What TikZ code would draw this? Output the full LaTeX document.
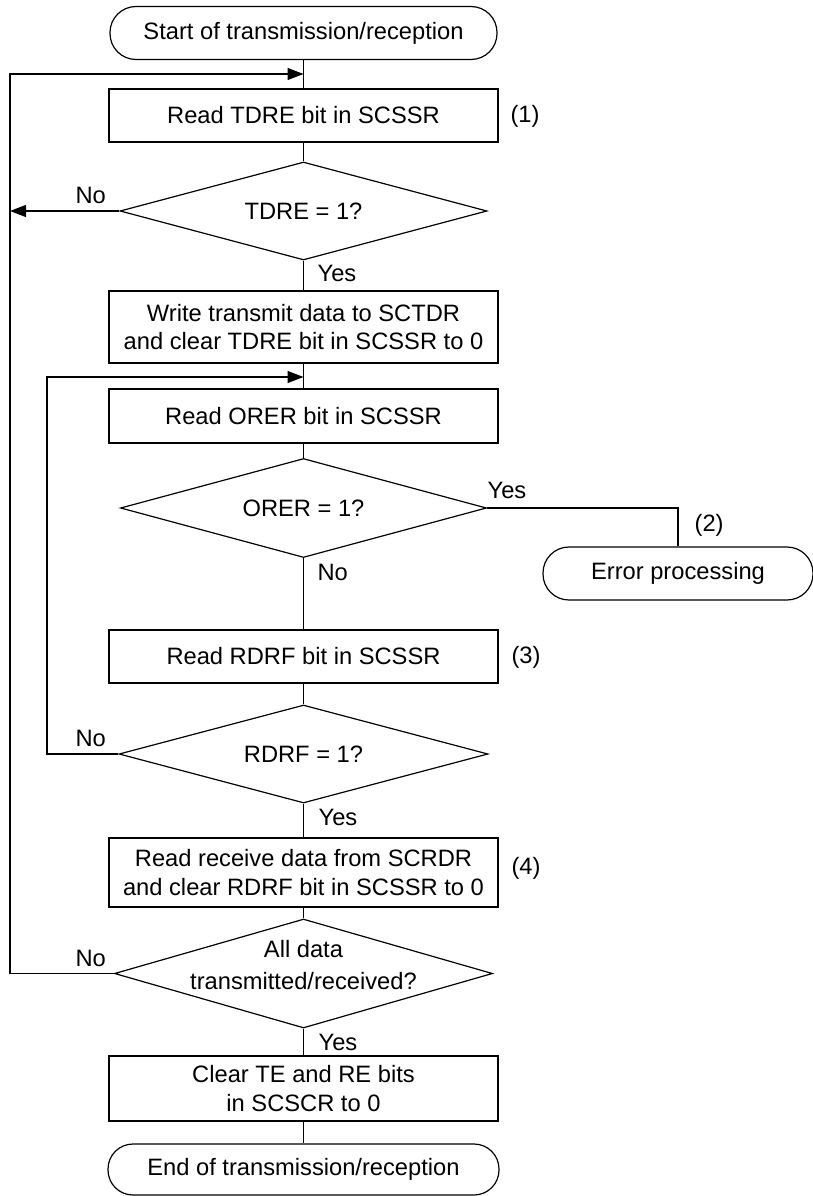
\documentclass[tikz,border=0pt]{standalone}
\usepackage{fontspec}
\setmainfont{Liberation Sans}
\usetikzlibrary{shapes.geometric,arrows.meta}
\begin{document}
\begin{tikzpicture}[x=1pt,y=-1pt,
  font=\fontsize{23.7}{28.5}\selectfont,
  line width=1.2pt,
  box/.style={draw, rectangle, minimum width=389pt, inner sep=0pt, align=center},
  term/.style={draw, rectangle, inner sep=0pt},
  dec/.style={draw, diamond, inner sep=0pt},
  lbl/.style={inner sep=0pt, anchor=west},
  arr/.style={-{Triangle[length=16pt,width=12pt]}}]
\useasboundingbox (0,0) rectangle (812,1196);

\node[term, rounded corners=26pt, minimum width=387pt, minimum height=53pt] (start) at (303.5,33) {Start of transmission/reception};
\node[box, minimum height=53pt] (b1) at (303.5,115.5) {Read TDRE bit in SCSSR};
\node[dec, minimum width=367pt, minimum height=98pt, label={[name=t1]center:TDRE = 1?}] (d1) at (303.5,211) {};
\node[box, minimum height=72pt] (b2) at (303.5,327) {Write transmit data to SCTDR\\and clear TDRE bit in SCSSR to 0};
\node[box, minimum height=54pt] (b3) at (303.5,416) {Read ORER bit in SCSSR};
\node[dec, minimum width=366pt, minimum height=99pt, label={[name=t2]center:ORER = 1?}] (d2) at (303.5,508) {};
\node[term, rounded corners=26pt, minimum width=270pt, minimum height=53pt] (err) at (678,573.5) {Error processing};
\node[box, minimum height=53pt] (b4) at (303.5,656.5) {Read RDRF bit in SCSSR};
\node[dec, minimum width=369pt, minimum height=98pt, label={[name=t3]center:RDRF = 1?}] (d3) at (303.5,754) {};
\node[box, minimum height=69pt] (b5) at (303.5,872.5) {Read receive data from SCRDR\\and clear RDRF bit in SCSSR to 0};
\node[dec, minimum width=378pt, minimum height=109pt, label={[name=t4, align=center, yshift=8pt]center:All data\\[3.5pt]transmitted/received?}] (d4) at (303.5,973.5) {};
\node[box, minimum height=65pt] (b6) at (303.5,1088.5) {Clear TE and RE bits\\in SCSCR to 0};
\node[term, rounded corners=25pt, minimum width=391pt, minimum height=51pt] (end) at (303.5,1169.5) {End of transmission/reception};

\coordinate (j1) at (303.5,74);
\coordinate (L1) at (10,74);
\coordinate (L1b) at (10,973.5);
\coordinate (j2) at (303.5,377);
\coordinate (L2) at (47,377);
\coordinate (L2b) at (47,754);

\draw (start) -- (b1);
\draw (b1) -- (d1);
\draw (d1) -- (b2);
\draw (b2) -- (b3);
\draw (b3) -- (d2);
\draw (d2) -- (b4);
\draw (b4) -- (d3);
\draw (d3) -- (b5);
\draw (b5) -- (d4);
\draw (d4) -- (b6);
\draw (b6) -- (end);
\draw (d2.east) -- (d2.east -| err.north) -- (err.north);
\draw[arr] (d1.west) -- (d1.west -| L1);
\draw[arr] (d4.west) -- (L1b) -- (L1) -- (j1);
\draw[arr] (d3.west) -- (L2b) -- (L2) -- (j2);

\node[lbl] (n1) at (510,116) {(1)};
\node[lbl] (n2) at (694,525) {(2)};
\node[lbl] (n3) at (511,657) {(3)};
\node[lbl] (n4) at (511,868) {(4)};
\node[lbl] (no1) at (75,195) {No};
\node[lbl] (yes1) at (317,273) {Yes};
\node[lbl] (yes2) at (487,490) {Yes};
\node[lbl] (no2) at (317,572) {No};
\node[lbl] (no3) at (75,738) {No};
\node[lbl] (yes3) at (318,817) {Yes};
\node[lbl] (no4) at (75,958) {No};
\node[lbl] (yes4) at (318,1042) {Yes};
\end{tikzpicture}
\end{document}
